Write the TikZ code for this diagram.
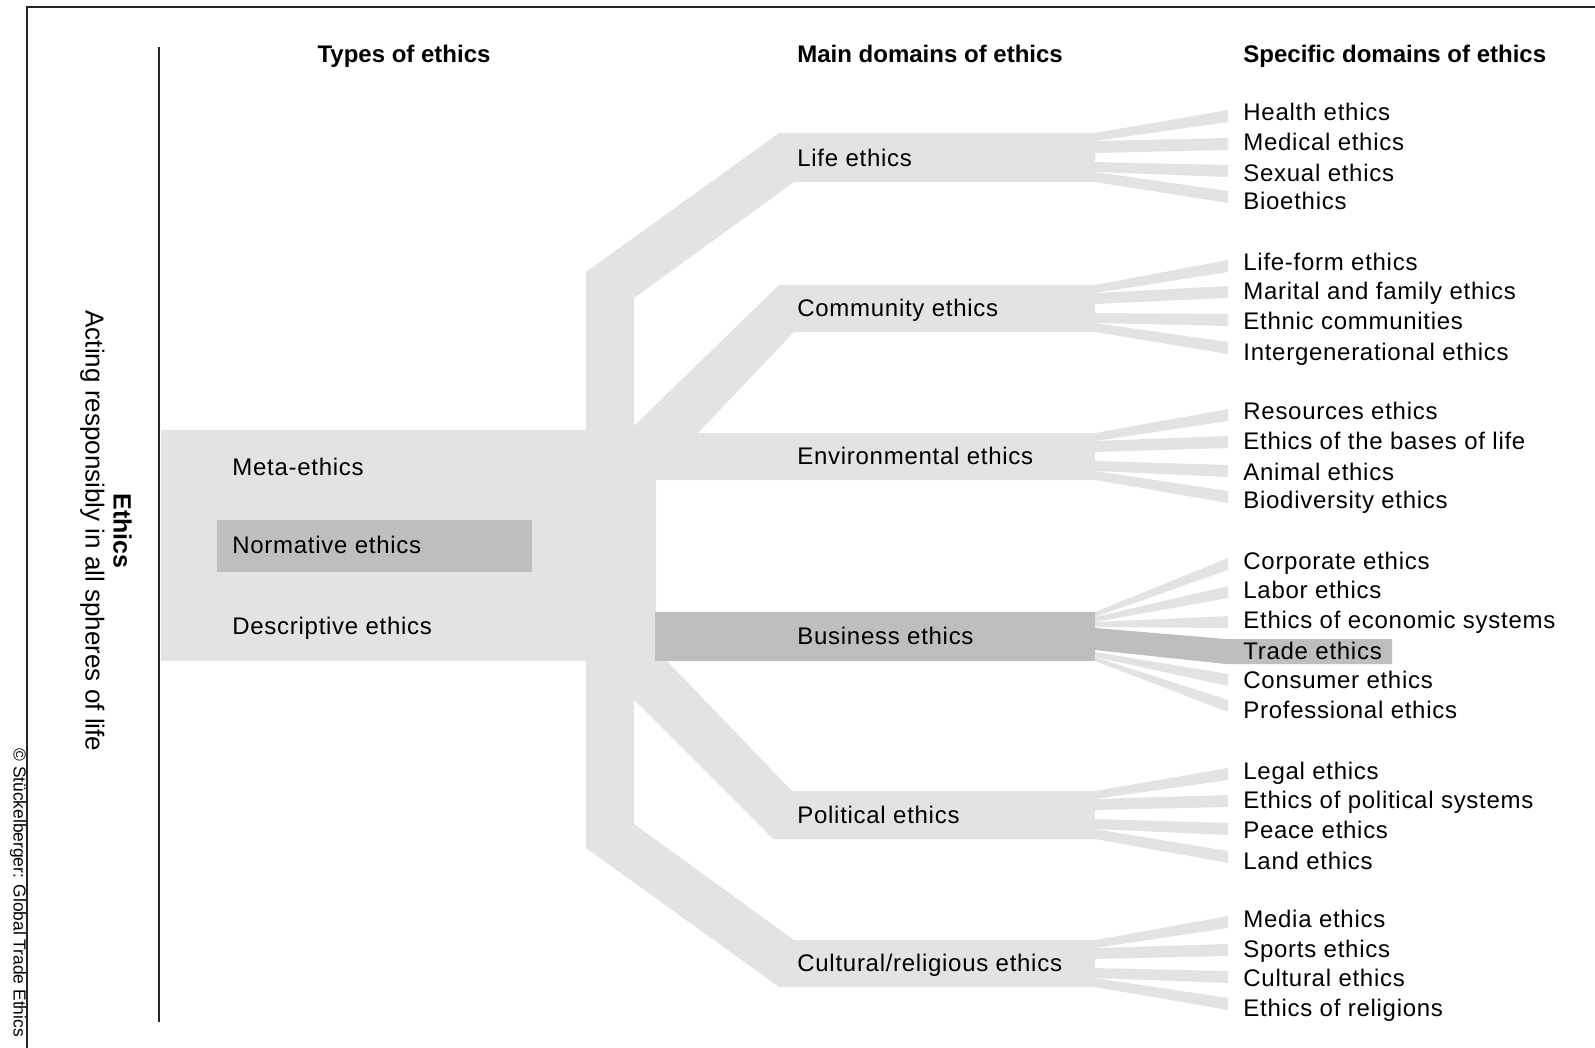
\documentclass[tikz,border=0pt]{standalone}
\usepackage{fontspec}
\setmainfont{Liberation Sans}
\usetikzlibrary{positioning}

\definecolor{bandgray}{RGB}{227,227,227}
\definecolor{focusgray}{RGB}{190,190,190}
\newcommand\itemfont{\fontsize{12}{14}\selectfont\addfontfeatures{LetterSpace=3}}

\begin{document}
\begin{tikzpicture}
    [ x = .5pt, y = -.5pt
    , band/.style =
      { fill = bandgray }
    , focus/.style =
      { fill = focusgray }
    , rule/.style =
      { line width = 1.2pt, black!85 }
    , heading/.style =
      { font = \bfseries\fontsize{12}{14}\selectfont, inner sep = 0pt
      , text height = 8.5pt, text depth = 0pt }
    , entry/.style =
      { font = \itemfont, anchor = west, inner sep = 0pt
      , text height = 8.5pt, text depth = 0pt }
    ]
    \useasboundingbox (0,0) rectangle (1595,1048);

    % frame and side titles
    \draw [rule] (27,1060) -- (27,7) -- (1610,7);
    \draw [rule] (159,47) -- (159,1022);
    \node [rotate=-90, align=center, font=\fontsize{13}{14}\selectfont] (ethics) at (106,531)
      {{\bfseries\fontsize{12.5}{14}\selectfont Ethics}\\Acting responsibly in all spheres of life};
    \node [rotate=-90, anchor=west, inner sep=0pt, font=\fontsize{8.7}{10}\selectfont] (source) at (18,748)
      {\textcopyright{} Stückelberger: Global Trade Ethics};

    % headings
    \node [heading] (types) at (404,54) {Types of ethics};
    \node [heading, anchor=west] (main) at (797,54) {Main domains of ethics};
    \node [heading, anchor=west] (specific) at (1243,54) {Specific domains of ethics};

    % bands
    \fill [band] (161,430) rectangle (656,661);
    \fill [focus] (217,520) rectangle (532,572);
    \fill [band] (586,272) -- (779,133) -- (1095,133) -- (1095,182) -- (794,182)
      -- (634,298) -- (634,426) -- (779,285) -- (1095,285) -- (1095,332) -- (794,332)
      -- (698,433) -- (1095,433) -- (1095,480) -- (656,480) -- (656,661) -- (667,661)
      -- (792,791) -- (1095,791) -- (1095,839) -- (773,839) -- (634,700) -- (634,824)
      -- (794,940) -- (1095,940) -- (1095,987) -- (779,987) -- (586,848) -- cycle;
    \fill [focus] (655,612) rectangle (1095,661);

    % fans to the specific domains
    \foreach \a/\b/\c in
      { 133/141/116, 141/153/144, 162/172/171, 172/182/197
      , 285/293/266, 293/304/292, 313/323/320, 323/332/348
      , 433/441/415, 441/452/442, 461/471/471, 471/480/497
      , 612/617/564, 617/622/592, 622/627/622, 652/657/680, 657/661/706
      , 791/799/774, 799/810/801, 819/829/829, 829/839/857
      , 940/948/922, 948/959/950, 968/978/977, 978/987/1004 }
      \fill [band] (1095,\a) -- (1228,\c-6) -- (1228,\c+6) -- (1095,\b) -- cycle;
    \fill [focus] (1095,628) -- (1226,639) -- (1392,639) -- (1392,664) -- (1226,664)
      -- (1095,650) -- cycle;

    % types of ethics
    \node [entry] (meta) at (232,467) {Meta-ethics};
    \node [entry] (normative) at (232,545) {Normative ethics};
    \node [entry] (descriptive) at (232,626) {Descriptive ethics};

    % main domains
    \node [entry] (life) at (797,158) {Life ethics};
    \node [entry] (community) at (797,308) {Community ethics};
    \node [entry] (environment) at (797,456) {Environmental ethics};
    \node [entry] (business) at (797,636) {Business ethics};
    \node [entry] (political) at (797,815) {Political ethics};
    \node [entry] (cultural) at (797,963) {Cultural/religious ethics};

    % specific domains
    \foreach \y/\t [count=\i] in
      { 112/Health ethics, 142/Medical ethics, 173/Sexual ethics, 201/Bioethics
      , 262/Life-form ethics, 291/Marital and family ethics, 321/Ethnic communities
      , 352/Intergenerational ethics
      , 411/Resources ethics, 441/Ethics of the bases of life, 472/Animal ethics
      , 500/Biodiversity ethics
      , 561/Corporate ethics, 590/Labor ethics, 620/Ethics of economic systems
      , 651/Trade ethics, 680/Consumer ethics, 710/Professional ethics
      , 771/Legal ethics, 800/Ethics of political systems, 830/Peace ethics
      , 861/Land ethics
      , 919/Media ethics, 949/Sports ethics, 978/Cultural ethics
      , 1008/Ethics of religions }
      \node [entry] (spec\i) at (1243,\y) {\t};
\end{tikzpicture}
\end{document}
